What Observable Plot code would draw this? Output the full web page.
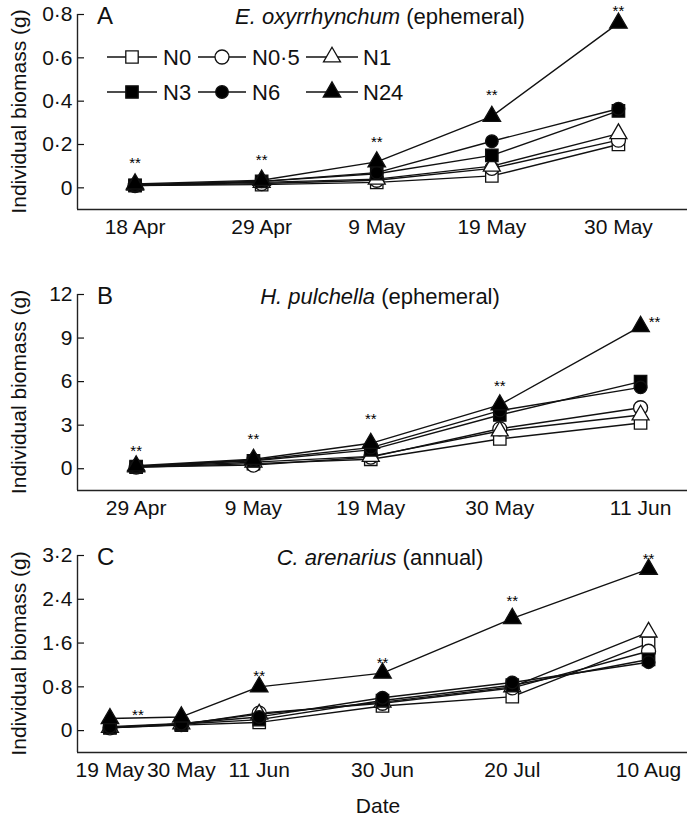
<!DOCTYPE html>
<html><head><meta charset="utf-8">
<script src="https://cdn.jsdelivr.net/npm/d3@7"></script>
<script src="https://cdn.jsdelivr.net/npm/@observablehq/plot@0.6"></script>
<style>
body{margin:0;background:#fff;}
#chart{position:relative;width:687px;height:824px;font-family:"Liberation Sans",Arial,sans-serif;}
#chart svg{position:absolute;left:0;}
</style></head><body><div id="chart"></div>
<script>
// ---------- data ----------
const treatments = ["N0", "N0·5", "N1", "N3", "N6", "N24"];

// Panel A: E. oxyrrhynchum (ephemeral)
const datesA = ["2010-04-18", "2010-04-29", "2010-05-09", "2010-05-19", "2010-05-30"];
const aN0   = [0.010, 0.015, 0.025, 0.055, 0.200];
const aN05  = [0.010, 0.020, 0.035, 0.090, 0.220];
const aN1   = [0.012, 0.025, 0.040, 0.100, 0.250];
const aN3   = [0.012, 0.030, 0.065, 0.150, 0.355];
const aN6   = [0.013, 0.030, 0.070, 0.215, 0.365];
const aN24  = [0.018, 0.035, 0.120, 0.330, 0.760];
const yTicksA = [0, 0.2, 0.4, 0.6, 0.8];

// Panel B: H. pulchella (ephemeral)
const datesB = ["2010-04-29", "2010-05-09", "2010-05-19", "2010-05-30", "2010-06-11"];
const bN0   = [0.10, 0.35, 0.65, 2.05, 3.15];
const bN05  = [0.12, 0.25, 0.80, 2.75, 4.20];
const bN1   = [0.13, 0.45, 0.85, 2.60, 3.70];
const bN3   = [0.15, 0.55, 1.30, 3.70, 6.00];
const bN6   = [0.15, 0.60, 1.45, 4.00, 5.60];
const bN24  = [0.20, 0.65, 1.75, 4.40, 9.80];
const yTicksB = [0, 3, 6, 9, 12];

// Panel C: C. arenarius (annual)
const datesC = ["2010-05-19", "2010-05-30", "2010-06-11", "2010-06-30", "2010-07-20", "2010-08-10"];
const cN0   = [0.05, 0.10, 0.15, 0.45, 0.62, 1.60];
const cN05  = [0.05, 0.11, 0.32, 0.50, 0.78, 1.45];
const cN1   = [0.06, 0.12, 0.30, 0.52, 0.80, 1.80];
const cN3   = [0.06, 0.12, 0.20, 0.55, 0.83, 1.30];
const cN6   = [0.07, 0.13, 0.25, 0.60, 0.88, 1.25];
const cN24  = [0.22, 0.25, 0.80, 1.05, 2.05, 2.95];
const yTicksC = [0, 0.8, 1.6, 2.4, 3.2];

const starText = "**";

// ---------- drawing ----------
const W = 687, ML = 77;
const FONT = "Liberation Sans, Arial, Helvetica, sans-serif";
const FS = 21;
const symbols = ["square", "circle", "triangle", "square", "circle", "triangle"];
const fills = ["white", "white", "white", "black", "black", "black"];
const radii = [7, 7, 6.3, 7, 6.3, 6.5];
const dfmt = d3.utcFormat("%-d %b");
const yfmt = d => String(d).replace(".", "·");

function panel(cfg) {
  const {top, height, marginTop, marginBottom, dates, series, yTicks, yMin, xDomain,
         letter, species, habit, starOff, showLegend, showDate} = cfg;
  const dts = dates.map(s => new Date(s + "T00:00Z"));
  const perT = series.map((vals, i) => vals.map((v, j) => ({t: treatments[i], date: dts[j], v})));
  const rows = perT.flat();
  const yMax = yTicks[yTicks.length - 1];
  const xd = xDomain.map(s => new Date(s + "T00:00Z"));
  const stars = perT[5].filter((d, j) => starOff[j]).map(d => {
    const o = starOff[perT[5].indexOf(d)];
    return Plot.text([d], {
      x: "date", y: "v", text: () => starText, fontSize: 15, fill: "#000",
      dx: o[0], dy: o[1]
    });
  });
  const plot = Plot.plot({
    width: W, height, marginLeft: ML, marginRight: 0, marginTop, marginBottom,
    style: {fontFamily: FONT, fontSize: FS + "px", background: "transparent", overflow: "visible", color: "#111"},
    x: {type: "utc", domain: xd},
    y: {domain: [yMin, yMax]},
    marks: [
      Plot.axisY(yTicks, {tickSize: -7, tickPadding: 12, tickFormat: yfmt, label: null, strokeWidth: 1.2}),
      Plot.axisX(dts, {tickSize: 0, tickPadding: 10, tickFormat: dfmt, label: null}),
      Plot.ruleY([yMin], {stroke: "#222", strokeWidth: 1.6}),
      Plot.ruleX([xd[0]], {y1: yMin, y2: yMax, stroke: "#222", strokeWidth: 1.4}),
      Plot.line(rows, {x: "date", y: "v", z: "t", stroke: "#111", strokeWidth: 1.4}),
      ...perT.map((data, i) => Plot.dot(data, {
        x: "date", y: "v", symbol: () => symbols[i], r: radii[i],
        fill: fills[i], stroke: "#111", strokeWidth: 1.3
      })),
      ...stars
    ]
  });
  plot.style.top = top + "px";
  const svg = d3.select(plot);
  // panel letter
  svg.append("text").attr("x", 97).attr("y", marginTop + 10).attr("text-anchor", "start")
    .attr("font-size", 24).attr("font-family", FONT).attr("fill", "#111").text(letter);
  // panel title
  const t = svg.append("text").attr("x", (ML + W) / 2 - 2).attr("y", marginTop + 10)
    .attr("text-anchor", "middle").attr("font-size", 22).attr("font-family", FONT).attr("fill", "#111");
  t.append("tspan").attr("font-style", "italic").text(species);
  t.append("tspan").text(" " + habit);
  // y label
  const cy = (marginTop + height - marginBottom) / 2;
  svg.append("text").attr("transform", `translate(18,${cy}) rotate(-90)`)
    .attr("text-anchor", "middle").attr("dominant-baseline", "central")
    .attr("font-size", FS).attr("font-family", FONT).attr("fill", "#111")
    .text("Individual biomass (g)");
  if (showDate) {
    svg.append("text").attr("x", (ML + W) / 2 - 4).attr("y", height - 11)
      .attr("text-anchor", "middle").attr("font-size", FS).attr("font-family", FONT).attr("fill", "#111")
      .text("Date");
  }
  if (showLegend) {
    const g = svg.append("g");
    const rowsY = [57, 92];
    const cols = [[107, 157, 132, 163], [198, 246, 222, 252], [306, 358, 332, 363]];
    treatments.forEach((name, i) => {
      const r = Math.floor(i / 3), c = i % 3;
      const [x1, x2, xs, xt] = cols[c];
      const y = rowsY[r];
      g.append("line").attr("x1", x1).attr("x2", x2).attr("y1", y).attr("y2", y)
        .attr("stroke", "#111").attr("stroke-width", 1.4);
      const type = {square: d3.symbolSquare, circle: d3.symbolCircle, triangle: d3.symbolTriangle}[symbols[i]];
      g.append("path").attr("d", d3.symbol(type, Math.PI * radii[i] * radii[i])())
        .attr("transform", `translate(${xs},${y})`)
        .attr("fill", fills[i]).attr("stroke", "#111").attr("stroke-width", 1.3);
      g.append("text").attr("x", xt).attr("y", y).attr("dy", "0.36em").attr("text-anchor", "start")
        .attr("font-size", 22).attr("font-family", FONT).attr("fill", "#111").text(name);
    });
  }
  document.getElementById("chart").appendChild(plot);
}

panel({
  top: 0, height: 270, marginTop: 14, marginBottom: 61,
  dates: datesA, series: [aN0, aN05, aN1, aN3, aN6, aN24], yTicks: yTicksA, yMin: -0.1,
  xDomain: ["2010-04-13", "2010-06-05"],
  letter: "A", species: "E. oxyrrhynchum", habit: "(ephemeral)",
  starOff: [[0, -21], [0, -20], [0, -20], [0, -21], [0, -12]], showLegend: true
});
panel({
  top: 270, height: 270, marginTop: 24, marginBottom: 50,
  dates: datesB, series: [bN0, bN05, bN1, bN3, bN6, bN24], yTicks: yTicksB, yMin: -1.5,
  xDomain: ["2010-04-24", "2010-06-15"],
  letter: "B", species: "H. pulchella", habit: "(ephemeral)",
  starOff: [[0, -15], [0, -20], [0, -24], [0, -19], [14, -4]]
});
panel({
  top: 540, height: 284, marginTop: 15, marginBottom: 72,
  dates: datesC, series: [cN0, cN05, cN1, cN3, cN6, cN24], yTicks: yTicksC, yMin: -0.4,
  xDomain: ["2010-05-14", "2010-08-16"],
  letter: "C", species: "C. arenarius", habit: "(annual)",
  starOff: [[28, -3], null, [0, -11], [0, -10], [0, -17], [0, -10]], showDate: true
});
</script></body></html>
